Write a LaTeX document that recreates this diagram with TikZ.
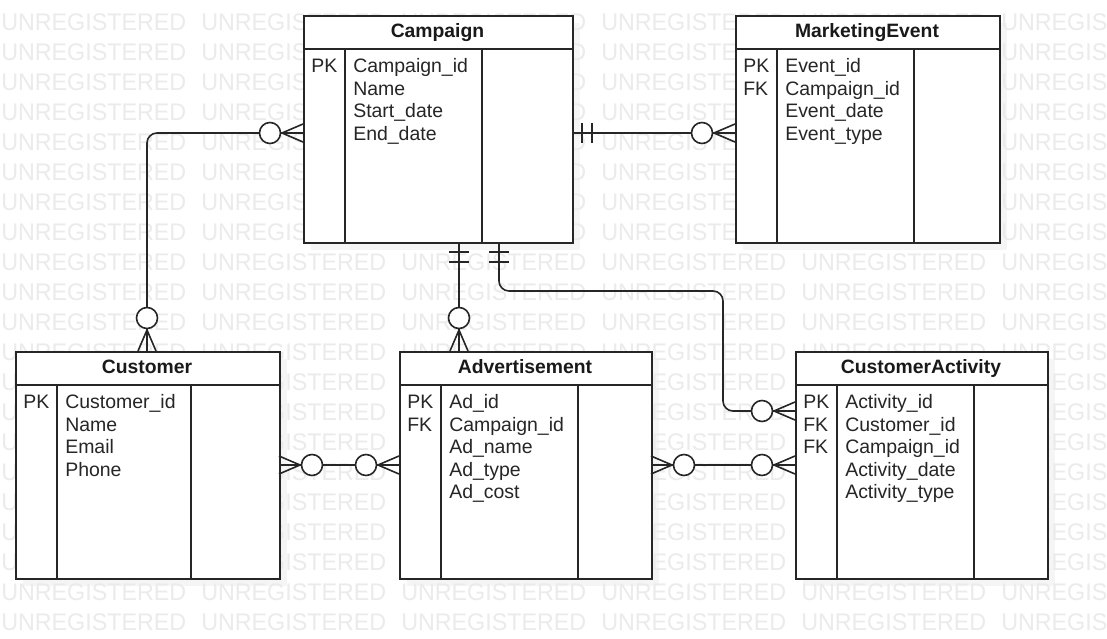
\documentclass[tikz,border=0pt]{standalone}
\usepackage{fontspec}
\setmainfont{Liberation Sans}
\begin{document}
\begin{tikzpicture}[x=0.75pt,y=-0.75pt,
  ink/.style={draw=black!85, line width=1.4pt},
  ink2/.style={draw=black!85, line width=1.2pt},
  conn/.style={ink2, rounded corners=7.5pt},
  entity/.style={ink, fill=white, rectangle, inner sep=0pt, anchor=north west},
  hdr/.style={font=\bfseries\fontsize{14.5pt}{16pt}\selectfont, text=black!90, anchor=base, inner sep=0pt},
  fld/.style={font=\fontsize{14.6pt}{16pt}\selectfont, text=black!85, anchor=base west, inner sep=0pt},
  wm/.style={font=\fontsize{18pt}{20pt}\selectfont, text=black!8, anchor=west, inner sep=0pt, xscale=0.97},
  shade/.style={fill=black!4, draw=none},
  many/.pic={\draw[ink2] (0,9)--(21,0)--(0,-9) (0,0)--(21,0);
             \draw[ink2, fill=white] (33,0) circle[radius=10.5];},
  one/.pic={\draw[ink2] (10,-10)--(10,10) (20,-10)--(20,10);}
]
\newcommand\ent[9]{%
  \node[entity, minimum width=#4*0.75pt, minimum height=227*0.75pt] (#1) at (#2,#3) {};
  \draw[ink] (#2,#3+34) -- (#2+#4,#3+34);
  \draw[ink] (#2+#5,#3+34) -- (#2+#5,#3+227);
  \draw[ink] (#2+#6,#3+34) -- (#2+#6,#3+227);
  \node[hdr] (#1-t) at (#2+#4/2,#3+22) {#7};
  \foreach \k [count=\i] in {#8} {\node[fld] (#1-k\i) at (#2+8,#3+57.5+\i*22.5-22.5) {\k};}
  \foreach \f [count=\i] in {#9} {\node[fld] (#1-f\i) at (#2+#5+8,#3+57.5+\i*22.5-22.5) {\f};}
}
\useasboundingbox (0,0) rectangle (1107,639);
\fill[white] (0,0) rectangle (1107,639);
% shadows
\fill[shade] (311,23) rectangle (580,250);
\fill[shade] (743,23) rectangle (1007,250);
\fill[shade] (23,359) rectangle (287,586);
\fill[shade] (407,359) rectangle (659,586);
\fill[shade] (803,359) rectangle (1055,586);
% watermark
\begin{scope}
\clip (0,0) rectangle (1107,639);
\foreach \r in {0,...,20} {\foreach \c in {0,...,5} {
  \node[wm] (wm-\r-\c) at (\c*200+1, 22+\r*30) {UNREGISTERED};}}
\end{scope}
% entities
\ent{camp}{303}{15}{269}{42}{179}{Campaign}{PK}{Campaign\_id,Name,Start\_date,End\_date}
\ent{mev}{735}{15}{264}{42}{179}{MarketingEvent}{PK,FK}{Event\_id,Campaign\_id,Event\_date,Event\_type}
\ent{cust}{15}{351}{264}{42}{176}{Customer}{PK}{Customer\_id,Name,Email,Phone}
\ent{adv}{399}{351}{252}{42}{179}{Advertisement}{PK,FK}{Ad\_id,Campaign\_id,Ad\_name,Ad\_type,Ad\_cost}
\ent{cact}{795}{351}{252}{42}{179}{CustomerActivity}{PK,FK,FK}{Activity\_id,Customer\_id,Campaign\_id,Activity\_date,Activity\_type}
% connector end points
\coordinate (a1) at (303,133); \coordinate (a2) at (147,351);
\coordinate (b1) at (572,133); \coordinate (b2) at (735,133);
\coordinate (c1) at (459,242); \coordinate (c2) at (459,351);
\coordinate (d1) at (499,242); \coordinate (d2) at (795,411);
\coordinate (e1) at (279,465); \coordinate (e2) at (399,465);
\coordinate (f1) at (651,465); \coordinate (f2) at (795,465);
% connectors
\draw[conn] (a1) -| (a2);
\draw[conn] (b1) -- (b2);
\draw[conn] (c1) -- (c2);
\draw[conn] (d1) -- (499,291) -- (723,291) -- (723,411) -- (d2);
\draw[conn] (e1) -- (e2);
\draw[conn] (f1) -- (f2);
% ends
\pic[rotate=180] at (a1) {many};
\pic[rotate=90] at (a2) {many};
\pic at (b1) {one};
\pic[rotate=180] at (b2) {many};
\pic[rotate=-90] at (c1) {one};
\pic[rotate=90] at (c2) {many};
\pic[rotate=-90] at (d1) {one};
\pic[rotate=180] at (d2) {many};
\pic at (e1) {many};
\pic[rotate=180] at (e2) {many};
\pic at (f1) {many};
\pic[rotate=180] at (f2) {many};
\end{tikzpicture}
\end{document}
